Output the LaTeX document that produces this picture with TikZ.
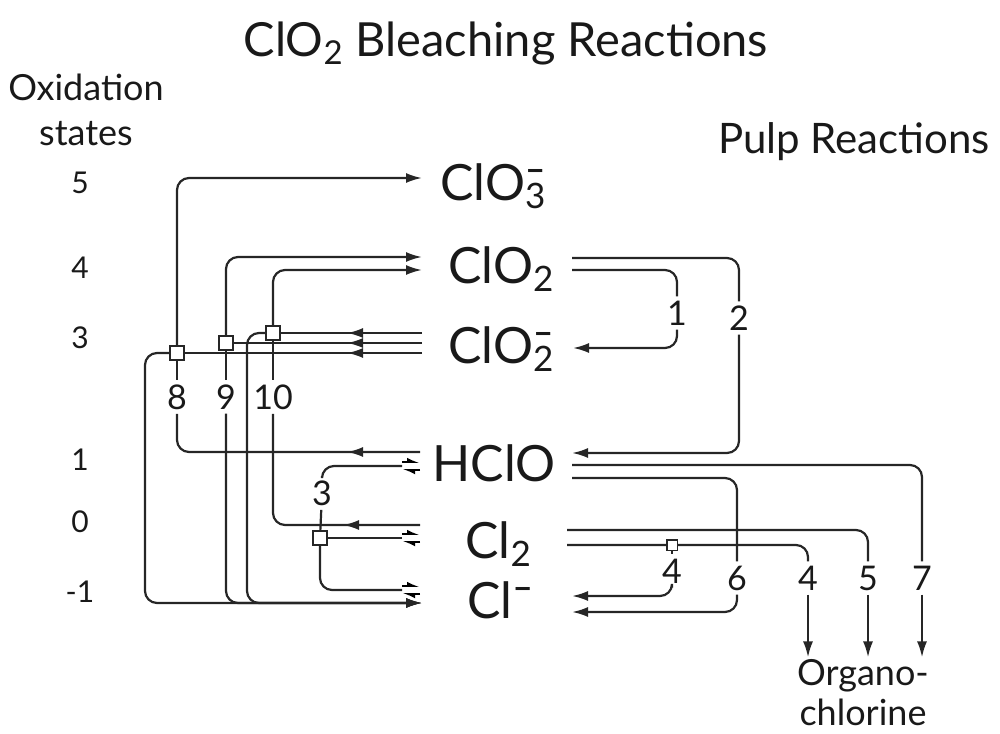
\documentclass[tikz,border=0pt]{standalone}
\usepackage{fontspec}
\setmainfont{Lato}
\usetikzlibrary{arrows.meta,decorations.markings}

\newcommand{\subsup}[2]{\rlap{\textsubscript{#1}}\textsuperscript{\textbf{–}}}
\newcommand{\eqmark}[1]{%
  \draw[line width=0.9pt,-{Latex[left,length=5pt,width=4.5pt]}] ([yshift=2pt]#1) -- ([xshift=9pt,yshift=2pt]#1);
  \draw[line width=0.9pt,-{Latex[left,length=5pt,width=4.5pt]}] ([xshift=9pt,yshift=-2pt]#1) -- ([yshift=-2pt]#1);}

\tikzset{
  link/.style={draw=black!85, line width=1.1pt, rounded corners=6pt},
  arr/.style={link, -{Latex[length=8pt,width=5pt]}},
  midarr/.style={postaction={decorate}, decoration={markings, mark=at position #1 with {\arrow{Latex[length=8pt,width=5pt]}}}},
  rxn/.style={draw=black!85, line width=0.9pt, fill=white, minimum size=6pt, inner sep=0pt},
  num/.style={font=\fontsize{17}{17}\selectfont, inner sep=2pt},
  species/.style={font=\fontsize{25}{25}\selectfont, inner sep=0pt, anchor=base west},
  level/.style={font=\fontsize{15}{15}\selectfont},
}

\begin{document}
\begin{tikzpicture}[x=0.5pt, y=-0.5pt, text=black!90]
\useasboundingbox (0,0) rectangle (1000,733);

% headings
\node[font=\fontsize{23.5}{23.5}\selectfont, anchor=base] (title) at (506,57) {ClO\textsubscript{2} Bleaching Reactions};
\node[font=\fontsize{21}{21}\selectfont, anchor=base] (pulp) at (854,153) {Pulp Reactions};
\node[font=\fontsize{18}{22.5}\selectfont, align=center] (ox) at (86,110) {Oxidation\\states};

% oxidation levels
\foreach \v/\y [count=\i] in {5/183, 4/268, 3/338, 1/460, 0/522, -1/592}
  \node[level] (lv\i) at (80,\y) {\v};

% species
\node[species] (clo3) at (440,200) {ClO\subsup{3}{-}};
\node[species] (clo2) at (448,283) {ClO\textsubscript{2}};
\node[species] (clo2m) at (448,363) {ClO\subsup{2}{-}};
\node[species] (hclo) at (432,481) {HClO};
\node[species] (cl2) at (465,558) {Cl\textsubscript{2}};
\node[species] (clm) at (467,618) {Cl\textsuperscript{\textbf{–}}};

% reaction boxes
\node[rxn] (r8) at (177,353) {};
\node[rxn] (r9) at (226,343) {};
\node[rxn] (r10) at (273,333) {};
\node[rxn] (r3) at (320,538) {};
\node[rxn, minimum size=4.5pt] (r4) at (672,545) {};

% reaction numbers
\node[num] (l8) at (177,397) {8};
\node[num] (l9) at (226,397) {9};
\node[num] (l10) at (273,397) {10};
\node[num] (l3) at (322,493) {3};
\node[num] (l1) at (677,313) {1};
\node[num] (l2) at (739,318) {2};
\node[num] (l4a) at (672,571) {4};
\node[num] (l6) at (737,578) {6};
\node[num] (l4b) at (808,578) {4};
\node[num] (l5) at (868,578) {5};
\node[num] (l7) at (922,578) {7};
\node[font=\fontsize{18}{20}\selectfont, align=center, inner sep=1pt] (orgcl) at (863,693) {Organo-\\chlorine};

% ends at the species, left
\coordinate (a8) at (422,178);
\coordinate (a9) at (422,257);
\coordinate (a10) at (422,270);
\coordinate (b10) at (422,333);
\coordinate (b9) at (422,343);
\coordinate (b8) at (422,353);
\coordinate (h8) at (420,452);
\coordinate (h3) at (402,466);
\coordinate (c10) at (420,525);
\coordinate (c3) at (402,538);
\coordinate (m3) at (402,590);
\coordinate (m8) at (422,603);
\coordinate (k8) at (145,603);
\coordinate (k10) at (247,603);
% ends at the species, right
\coordinate (s2) at (572,258);
\coordinate (s1) at (572,270);
\coordinate (e1) at (573,348);
\coordinate (e2) at (572,453);
\coordinate (s7) at (572,465);
\coordinate (s6) at (572,478);
\coordinate (s5) at (567,530);
\coordinate (s4) at (567,545);
\coordinate (e4) at (572,596);
\coordinate (e6) at (572,612);

% reaction 8
\draw[arr] (r8) |- (a8);
\draw[arr] (r8) -| (k8) -- (m8);
\draw[link] (r8) -- (l8);
\draw[link, midarr=36.5pt] (h8) -| (l8);
\draw[link, midarr=37.5pt] (b8) -- (r8);

% reaction 9
\draw[arr] (r9) |- (a9);
\draw[link] (r9) -- (l9);
\draw[arr] (l9) |- (m8);
\draw[link, midarr=37.5pt] (b9) -- (r9);

% reaction 10
\draw[arr] (r10) |- (a10);
\draw[arr] (r10) -| (k10) -- (m8);
\draw[link] (r10) -- (l10);
\draw[link, midarr=38.5pt] (c10) -| (l10);
\draw[link, midarr=37.5pt] (b10) -- (r10);

% reaction 3
\draw[link] (r3) -- (l3);
\draw[link] (l3) |- (h3);
\draw[link] (r3) -- (c3);
\draw[link] (r3) |- (m3);
\eqmark{h3}
\eqmark{c3}
\eqmark{m3}

% pulp reactions
\draw[link] (s1) -| (l1);
\draw[arr] (l1) |- (e1);
\draw[link] (s2) -| (l2);
\draw[arr] (l2) |- (e2);
\draw[link] (s7) -| (l7);
\draw[arr] (l7) -- (l7 |- orgcl.north);
\draw[link] (s6) -| (l6);
\draw[arr] (l6) |- (e6);
\draw[link] (s5) -| (l5);
\draw[arr] (l5) -- (l5 |- orgcl.north);
\draw[link] (s4) -- (r4) -| (l4b);
\draw[arr] (l4b) -- (l4b |- orgcl.north);
\draw[link] (r4) -- (l4a);
\draw[arr] (l4a) |- (e4);

% redraw boxes on top
\foreach \b in {r8,r9,r10,r3,r4}
  \draw[rxn] (\b.south west) rectangle (\b.north east);
\end{tikzpicture}
\end{document}
